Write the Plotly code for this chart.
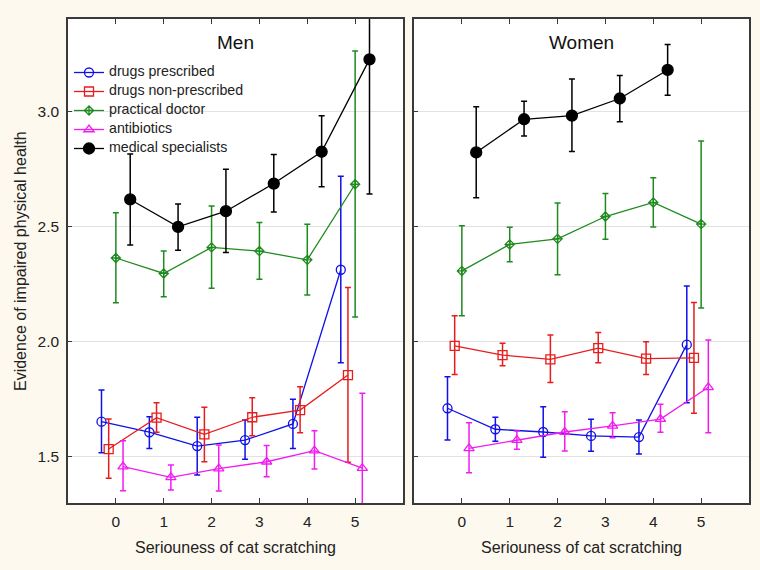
import plotly.graph_objects as go

# ---------------- data ----------------
categories = [0, 1, 2, 3, 4, 5]
tick_labels = ["0", "1", "2", "3", "4", "5"]
series_names = ["drugs prescribed", "drugs non-prescribed", "practical doctor",
                "antibiotics", "medical specialists"]

# Men: means, upper and lower error bar ends
men_prescribed = [1.653, 1.607, 1.547, 1.573, 1.643, 2.312]
men_prescribed_hi = [1.790, 1.674, 1.672, 1.660, 1.750, 2.718]
men_prescribed_lo = [1.518, 1.537, 1.422, 1.490, 1.537, 1.909]

men_nonpresc = [1.534, 1.670, 1.598, 1.672, 1.703, 1.855]
men_nonpresc_hi = [1.664, 1.735, 1.715, 1.757, 1.804, 2.235]
men_nonpresc_lo = [1.407, 1.607, 1.479, 1.592, 1.605, 1.477]

men_practical = [2.363, 2.296, 2.409, 2.393, 2.355, 2.683]
men_practical_hi = [2.559, 2.393, 2.589, 2.517, 2.509, 3.261]
men_practical_lo = [2.169, 2.195, 2.232, 2.271, 2.202, 2.107]

men_antibiotics = [1.458, 1.411, 1.449, 1.479, 1.527, 1.451]
men_antibiotics_hi = [1.570, 1.465, 1.552, 1.550, 1.614, 1.776]
men_antibiotics_lo = [1.353, 1.356, 1.352, 1.414, 1.448, 1.126]

men_specialists = [2.617, 2.498, 2.566, 2.686, 2.824, 3.225]
men_specialists_hi = [2.814, 2.597, 2.748, 2.812, 2.980, 3.810]
men_specialists_lo = [2.419, 2.397, 2.387, 2.563, 2.672, 2.641]

# Women
women_prescribed = [1.711, 1.620, 1.608, 1.591, 1.586, 1.987]
women_prescribed_hi = [1.848, 1.672, 1.718, 1.663, 1.660, 2.241]
women_prescribed_lo = [1.573, 1.568, 1.498, 1.524, 1.513, 1.735]

women_nonpresc = [1.982, 1.942, 1.923, 1.972, 1.926, 1.930]
women_nonpresc_hi = [2.112, 1.993, 2.029, 2.040, 2.000, 2.170]
women_nonpresc_lo = [1.858, 1.896, 1.823, 1.909, 1.858, 1.689]

women_practical = [2.307, 2.422, 2.446, 2.543, 2.604, 2.510]
women_practical_hi = [2.503, 2.496, 2.602, 2.643, 2.711, 2.871]
women_practical_lo = [2.112, 2.347, 2.290, 2.444, 2.497, 2.146]

women_antibiotics = [1.537, 1.573, 1.608, 1.635, 1.664, 1.802]
women_antibiotics_hi = [1.648, 1.612, 1.696, 1.692, 1.728, 2.007]
women_antibiotics_lo = [1.431, 1.533, 1.526, 1.583, 1.607, 1.605]

women_specialists = [2.821, 2.965, 2.981, 3.055, 3.179]
women_specialists_hi = [3.019, 3.043, 3.140, 3.155, 3.289]
women_specialists_lo = [2.624, 2.892, 2.825, 2.954, 3.069]

# ---------------- styling ----------------
colors = ["#1010e8", "#e81c1c", "#1f8a1f", "#f01cf0", "#000000"]
symbols = ["circle-open", "square-open", "diamond-cross-open", "triangle-up-open", "circle"]
msizes = [9, 9, 7, 9, 11]
offsets = [-0.3, -0.15, 0.0, 0.15, 0.3]

men = [
    (men_prescribed, men_prescribed_hi, men_prescribed_lo),
    (men_nonpresc, men_nonpresc_hi, men_nonpresc_lo),
    (men_practical, men_practical_hi, men_practical_lo),
    (men_antibiotics, men_antibiotics_hi, men_antibiotics_lo),
    (men_specialists, men_specialists_hi, men_specialists_lo),
]
women = [
    (women_prescribed, women_prescribed_hi, women_prescribed_lo),
    (women_nonpresc, women_nonpresc_hi, women_nonpresc_lo),
    (women_practical, women_practical_hi, women_practical_lo),
    (women_antibiotics, women_antibiotics_hi, women_antibiotics_lo),
    (women_specialists, women_specialists_hi, women_specialists_lo),
]

fig = go.Figure()

for panel, (data, xa, ya) in enumerate([(men, "x", "y"), (women, "x2", "y2")]):
    for i, (vals, hi, lo) in enumerate(data):
        xs = [categories[k] + offsets[i] for k in range(len(vals))]
        fig.add_trace(go.Scatter(
            x=xs, y=vals, xaxis=xa, yaxis=ya,
            mode="lines+markers",
            name="<span style='font-size:14.2px'>" + series_names[i] + "</span>",
            showlegend=(panel == 0),
            line=dict(color=colors[i], width=1.3),
            marker=dict(symbol=symbols[i], size=msizes[i], color=colors[i],
                        line=dict(color=colors[i], width=1.3)),
            error_y=dict(type="data", symmetric=False,
                         array=[h - v for h, v in zip(hi, vals)],
                         arrayminus=[v - l for v, l in zip(vals, lo)],
                         color=colors[i], thickness=1.5, width=3),
        ))

W, H = 760, 570
FONT = "Liberation Sans, Arial"
x1_dom = [68 / W, 403 / W]
x2_dom = [414 / W, 749 / W]
y_dom = [1 - 503 / H, 1 - 19 / H]

axis_common = dict(showline=True, linecolor="#3a3a3a", linewidth=1.6, zeroline=False,
                   tickfont=dict(family=FONT, size=15.5, color="#222"))

xaxis_common = dict(axis_common, range=[-1, 6], tickvals=categories, ticktext=tick_labels,
                    ticks="inside", ticklen=5, tickcolor="#3a3a3a", mirror="ticks",
                    showgrid=False, ticklabelstandoff=4)

yaxis_common = dict(axis_common, range=[1.3, 3.4], tickvals=[1.5, 2.0, 2.5, 3.0],
                    ticks="inside", ticklen=4, tickcolor="#3a3a3a", mirror=True,
                    showgrid=True, gridcolor="#e2e2e2", gridwidth=1)

title_font = dict(family=FONT, size=16, color="#222")

fig.update_layout(
    width=W, height=H, autosize=False,
    margin=dict(l=0, r=0, t=0, b=0),
    paper_bgcolor="#fdf9ee", plot_bgcolor="#ffffff",
    font=dict(family=FONT, color="#222"),
    xaxis=dict(xaxis_common, domain=x1_dom, anchor="y"),
    xaxis2=dict(xaxis_common, domain=x2_dom, anchor="y2"),
    yaxis=dict(yaxis_common, domain=y_dom, anchor="x", tickformat=".1f",
               ticklabelstandoff=4),
    yaxis2=dict(yaxis_common, domain=y_dom, anchor="x2", showticklabels=False),
    legend=dict(x=69 / W, y=1 - 58 / H, xanchor="left", yanchor="top",
                bgcolor="rgba(255,255,255,0)",
                font=dict(family=FONT, size=10, color="#222"),
                tracegroupgap=0),
    annotations=[
        dict(text="Men", x=(x1_dom[0] + x1_dom[1]) / 2, y=1 - 42 / H, xref="paper", yref="paper",
             xanchor="center", yanchor="middle", showarrow=False,
             font=dict(family=FONT, size=19, color="#111")),
        dict(text="Women", x=(x2_dom[0] + x2_dom[1]) / 2, y=1 - 42 / H, xref="paper", yref="paper",
             xanchor="center", yanchor="middle", showarrow=False,
             font=dict(family=FONT, size=19, color="#111")),
        dict(text="Seriouness of cat scratching", x=(x1_dom[0] + x1_dom[1]) / 2, y=1 - 547 / H,
             xref="paper", yref="paper", xanchor="center", yanchor="middle",
             showarrow=False, font=title_font),
        dict(text="Seriouness of cat scratching", x=(x2_dom[0] + x2_dom[1]) / 2, y=1 - 547 / H,
             xref="paper", yref="paper", xanchor="center", yanchor="middle",
             showarrow=False, font=title_font),
        dict(text="Evidence of impaired physical health", x=20 / W, y=(y_dom[0] + y_dom[1]) / 2,
             xref="paper", yref="paper", xanchor="center", yanchor="middle", textangle=-90,
             showarrow=False, font=title_font),
    ],
)

fig.write_html("out.html",
               config={"displayModeBar": False},
               post_script="document.body.style.margin='0';"
                           "document.body.style.background='#fdf9ee';")
